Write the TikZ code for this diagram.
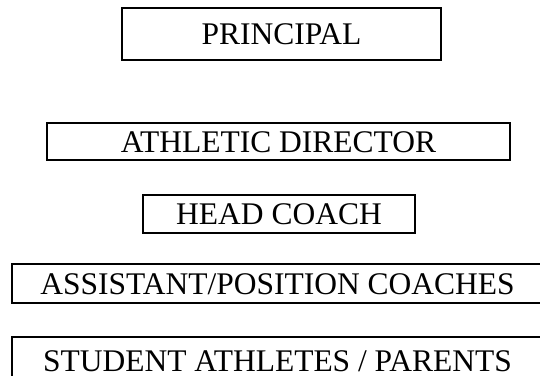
\documentclass[tikz,border=0pt]{standalone}
\usepackage{fontspec}
\setmainfont{Liberation Serif}
\begin{document}
\begin{tikzpicture}[x=1pt,y=-1pt,
  orgbox/.style={draw=black,line width=2pt,inner sep=0pt,
    text height=21pt,text depth=0pt,
    font=\fontsize{31.5}{38}\selectfont},
  thinbox/.style={orgbox,line width=1.2pt}]
\useasboundingbox (0,0) rectangle (540,375);
\node[thinbox,minimum width=319pt,minimum height=52pt] (principal) at (281.5,34) {PRINCIPAL};
\node[orgbox,minimum width=463pt,minimum height=37pt] (ad) at (278.5,141.5) {ATHLETIC DIRECTOR};
\node[orgbox,minimum width=272pt,minimum height=38pt] (hc) at (279,214) {HEAD COACH};
\node[orgbox,minimum width=531pt,minimum height=39pt] (ac) at (277.5,283.5) {ASSISTANT/POSITION COACHES};
\node[orgbox,minimum width=531pt,minimum height=48pt] (sa) at (277.5,361) {STUDENT ATHLETES / PARENTS};
\end{tikzpicture}
\end{document}
